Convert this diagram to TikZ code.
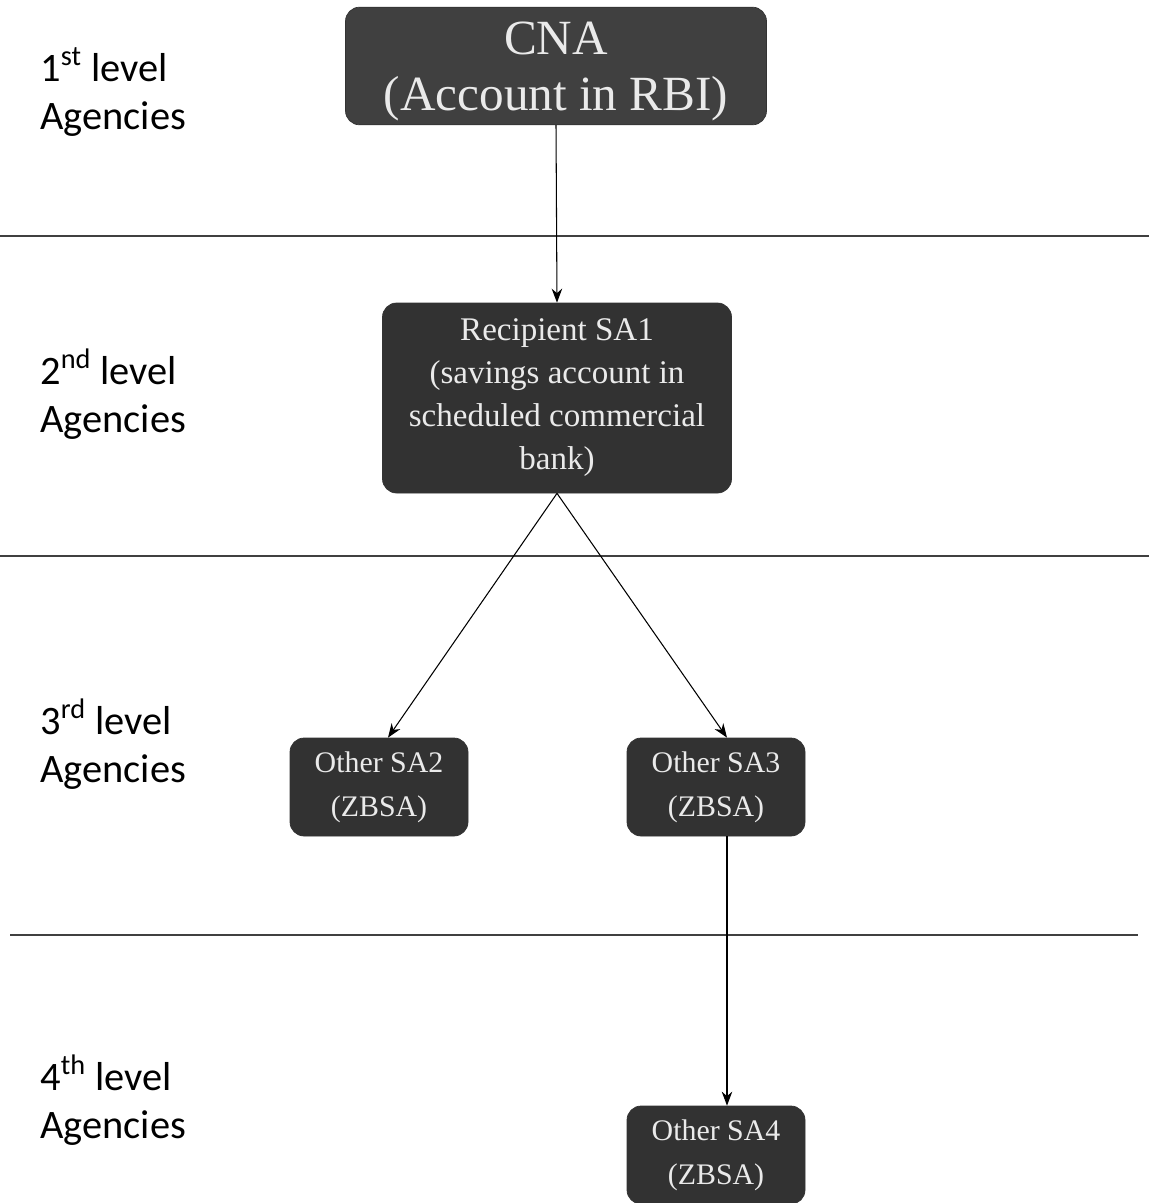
\documentclass[tikz,border=0pt]{standalone}
\usepackage{fontspec}
\setmainfont{Liberation Serif}
\newfontfamily\lvlfont{Carlito}
\usetikzlibrary{arrows.meta, positioning, calc}
\definecolor{boxGray}{HTML}{404040}
\definecolor{boxDark}{HTML}{323232}
\definecolor{txtLight}{HTML}{EAEAEA}

\begin{document}
\begin{tikzpicture}[x=0.02cm, y=-0.02cm,
  acct/.style={draw=black!80, fill=boxDark, rounded corners=8pt, text=txtLight, align=center, inner sep=2pt},
  small/.style={acct, minimum width=178*0.02cm, minimum height=98*0.02cm, font=\fontsize{17}{25}\selectfont},
  lvl/.style={anchor=west, align=left, inner sep=0pt, font=\lvlfont\fontsize{23}{27}\selectfont},
  flow/.style={-{Stealth[length=8pt,width=6pt]}, semithick, black},
  sep/.style={black!75, line width=0.9pt}]
  % page: 1 unit = 1px of the scan, y runs downwards
  \useasboundingbox (0,0) rectangle (1149,1203);
  % level separators
  \draw[sep] (0,236) -- (1149,236);
  \draw[sep] (0,556) -- (1149,556);
  \draw[sep] (10,935) -- (1138,935);
  % level labels
  \node[lvl] (lvl1) at (40,92) {1\textsuperscript{st} level\\Agencies};
  \node[lvl] (lvl2) at (40,394) {2\textsuperscript{nd} level\\Agencies};
  \node[lvl] (lvl3) at (40,744) {3\textsuperscript{rd} level\\Agencies};
  \node[lvl] (lvl4) at (40,1100) {4\textsuperscript{th} level\\Agencies};
  % accounts
  \node[acct, fill=boxGray, minimum width=421*0.02cm, minimum height=113*0.02cm,
        font=\fontsize{28}{32}\selectfont] (cna) at (556,66) {\rule{0pt}{25pt}CNA\\(Account in RBI)};
  \node[acct, minimum width=349*0.02cm, minimum height=190*0.02cm,
        font=\fontsize{18.8}{24.5}\selectfont] (sa1) at (557,398)
        {Recipient SA1\\(savings account in\\scheduled commercial\\bank)};
  \node[small] (sa2) at (379,787) {Other SA2\\(ZBSA)};
  \node[small] (sa3) at (716,787) {Other SA3\\(ZBSA)};
  \node[small] (sa4) at (716,1155) {Other SA4\\(ZBSA)};
  % flow of funds
  \draw[flow] (cna.south) -- (sa1.north);
  \draw[flow] (sa1.south) -- ([xshift=9*0.02cm]sa2.north);
  \draw[flow] (sa1.south) -- ([xshift=11*0.02cm]sa3.north);
  \draw[flow] ([xshift=11*0.02cm]sa3.south) -- ([xshift=11*0.02cm]sa4.north);
\end{tikzpicture}
\end{document}
